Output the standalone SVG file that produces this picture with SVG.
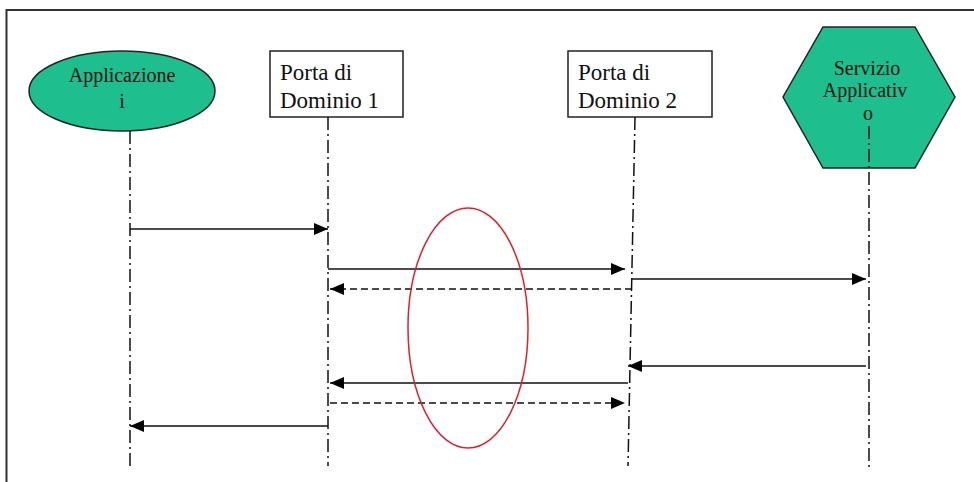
<svg xmlns="http://www.w3.org/2000/svg" width="974" height="482" viewBox="0 0 974 482">
<defs>
<marker id="ah" viewBox="0 0 14 12" refX="14" refY="6" markerWidth="14" markerHeight="12" markerUnits="userSpaceOnUse" orient="auto">
<path d="M0,0 L14,6 L0,12 Z" fill="#000"/>
</marker>
<style>
.t{font-family:"Liberation Serif","Times New Roman",serif;fill:#111}
.node{fill:#1dbf8e;stroke:#222;stroke-width:1.5}
.box{fill:#fff;stroke:#222;stroke-width:1.5}
.life{stroke:#111;stroke-width:1.5;stroke-dasharray:13 4 2 4;fill:none}
.msg{stroke:#111;stroke-width:1.5;fill:none;marker-end:url(#ah)}
.ret{stroke:#111;stroke-width:1.5;fill:none;stroke-dasharray:7 4;marker-end:url(#ah)}
</style>
</defs>
<rect width="974" height="482" fill="#fff"/>
<path d="M6.5,482 V10 H974" fill="none" stroke="#333" stroke-width="2"/>
<g id="app">
<ellipse class="node" cx="122" cy="91" rx="93" ry="40"/>
<text class="t" x="122" y="82" font-size="20" text-anchor="middle">Applicazione</text>
<text class="t" x="122" y="108" font-size="20" text-anchor="middle">i</text>
</g>
<g id="pd1">
<rect class="box" x="270" y="51" width="133" height="66"/>
<text class="t" x="280" y="80" font-size="23">Porta di</text>
<text class="t" x="280" y="108" font-size="23">Dominio 1</text>
</g>
<g id="pd2">
<rect class="box" x="568" y="51" width="144" height="66"/>
<text class="t" x="578" y="80" font-size="23">Porta di</text>
<text class="t" x="578" y="108" font-size="23">Dominio 2</text>
</g>
<g id="servizio">
<polygon class="node" points="823,27 915,27 955,97 915,168 823,168 783,97"/>
<text class="t" x="867" y="75" font-size="20" text-anchor="middle">Servizio</text>
<text class="t" x="865" y="97" font-size="20" text-anchor="middle">Applicativ</text>
<text class="t" x="868" y="120" font-size="20" text-anchor="middle">o</text>
</g>
<g id="lifelines">
<line class="life" x1="130" y1="131" x2="130" y2="468"/>
<line class="life" x1="328" y1="117" x2="328" y2="466"/>
<line class="life" x1="635" y1="117" x2="628" y2="466"/>
<line class="life" x1="869" y1="126" x2="869" y2="470"/>
</g>
<g id="connectors">
<line class="msg" x1="130" y1="229" x2="328" y2="229"/>
<line class="msg" x1="328" y1="269" x2="625" y2="269"/>
<line class="ret" x1="632" y1="289" x2="330" y2="289"/>
<line class="msg" x1="632" y1="279" x2="866" y2="279"/>
<line class="msg" x1="866" y1="366" x2="628" y2="366"/>
<line class="msg" x1="628" y1="383" x2="330" y2="383"/>
<line class="ret" x1="330" y1="403" x2="625" y2="403"/>
<line class="msg" x1="328" y1="426" x2="130" y2="426"/>
</g>
<g id="highlight">
<ellipse cx="468" cy="328" rx="60" ry="120" fill="none" stroke="#e0202a" stroke-width="1.5"/>
</g>
</svg>
